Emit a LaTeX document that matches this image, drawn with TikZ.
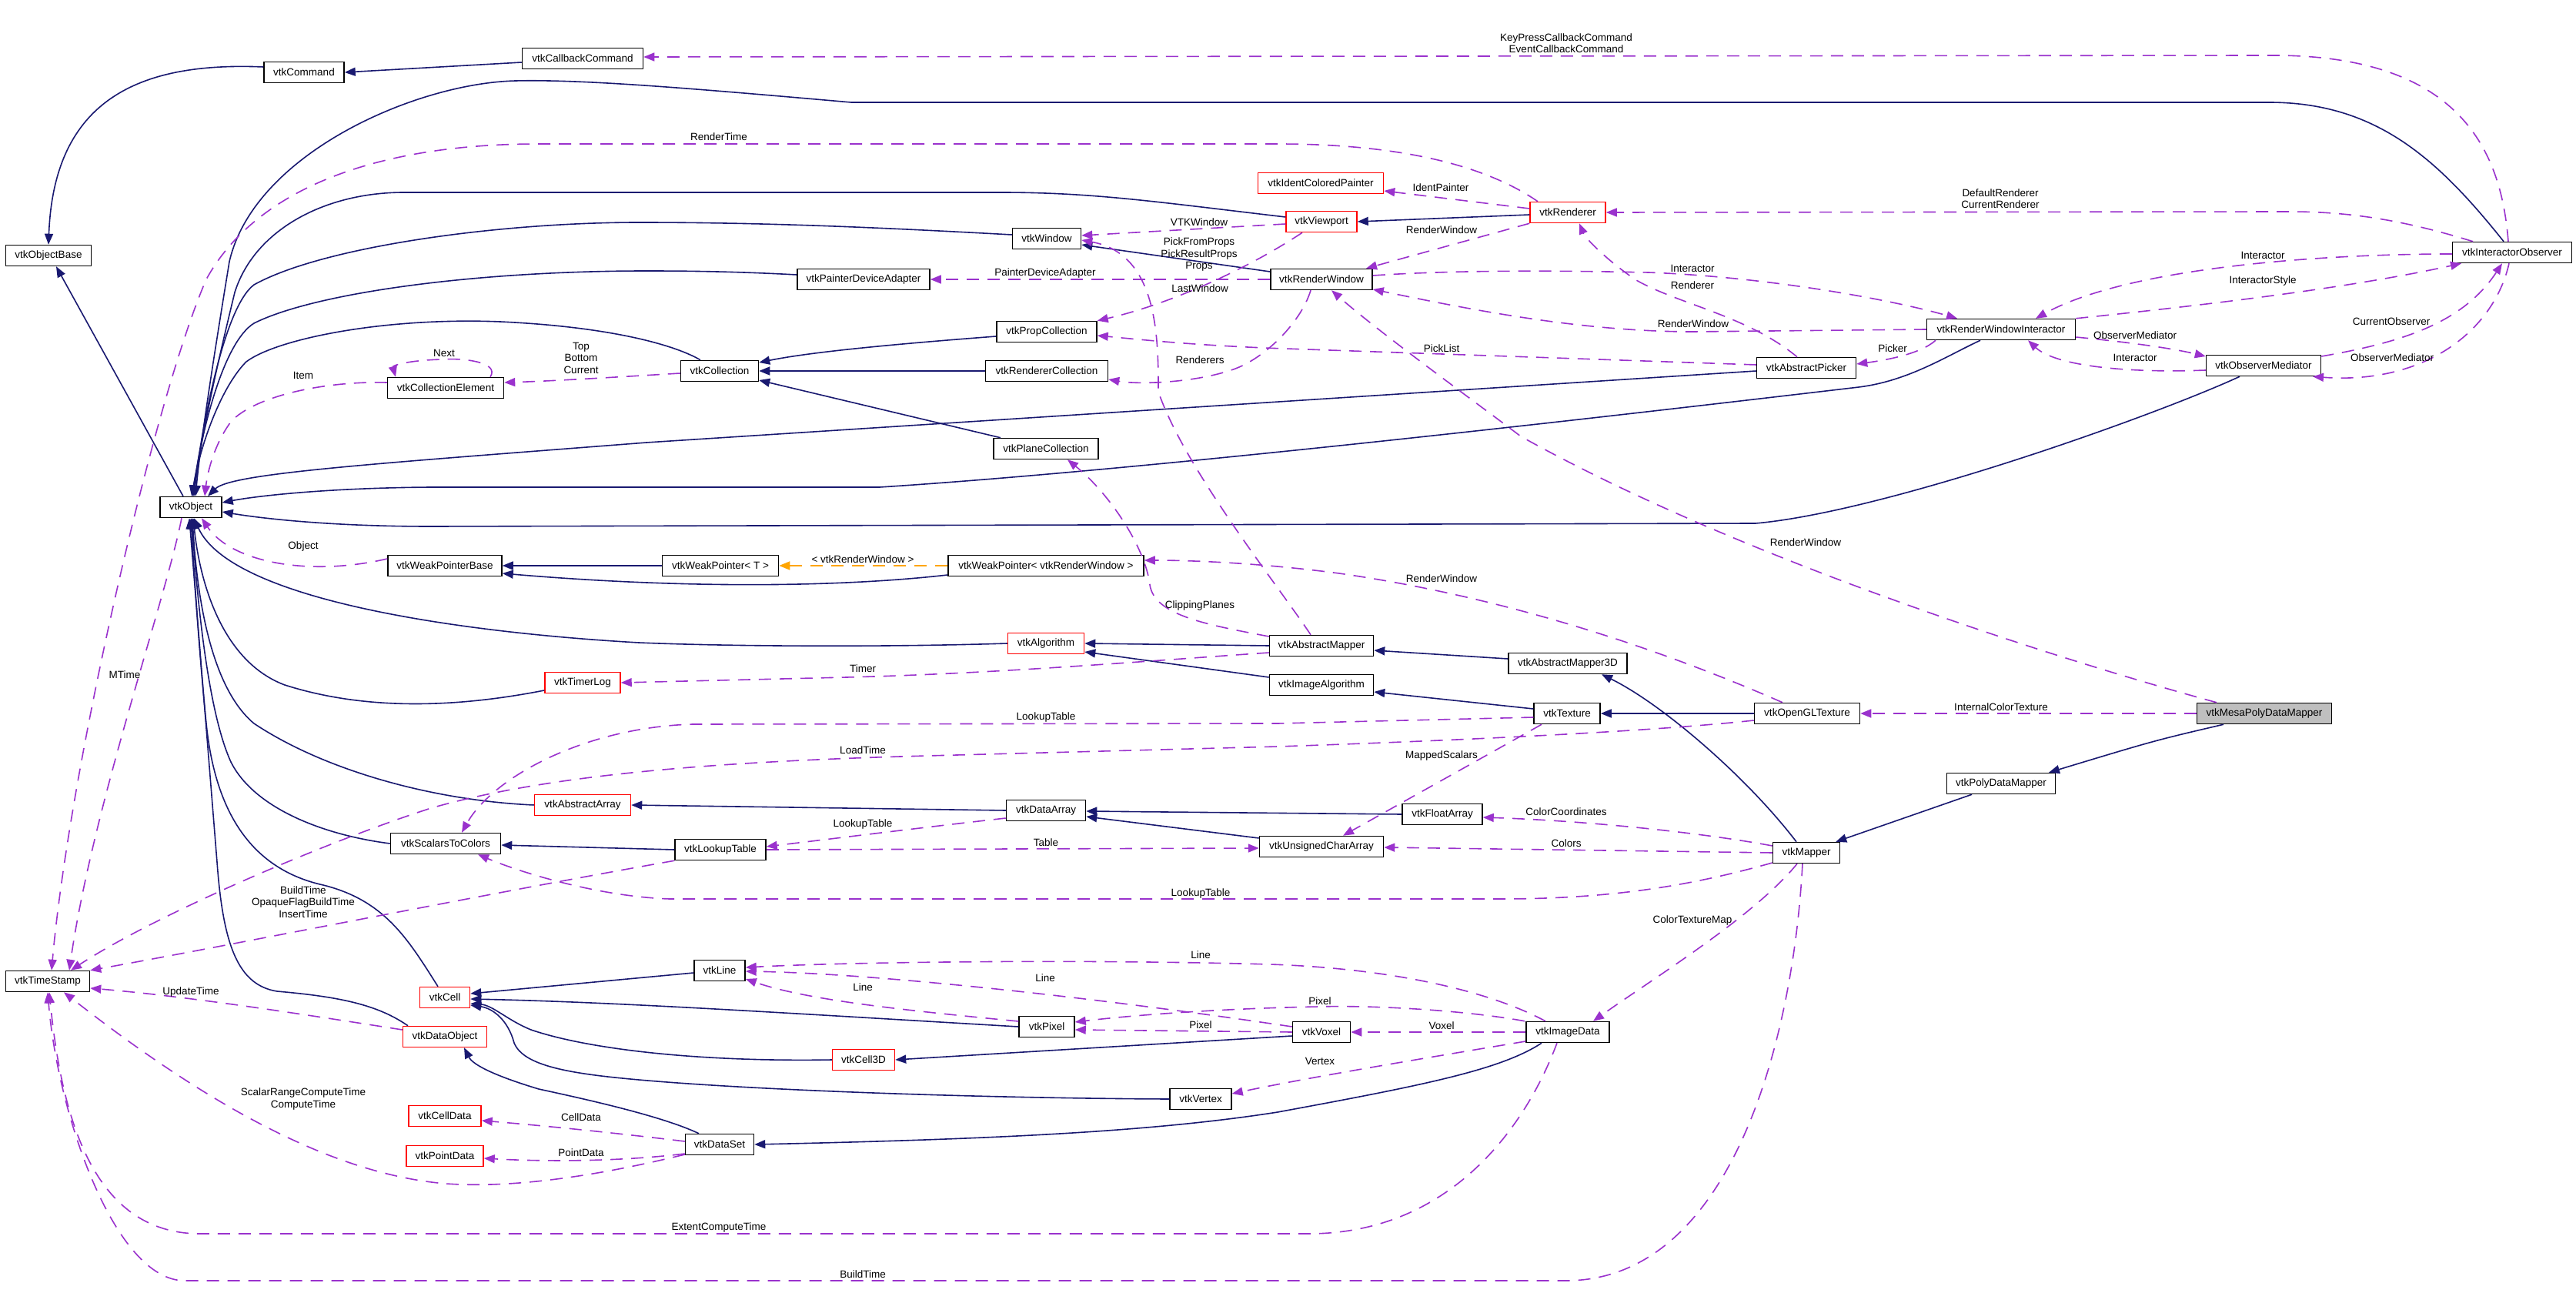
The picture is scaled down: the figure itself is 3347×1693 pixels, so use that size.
\documentclass[tikz,border=0pt]{standalone}
\usepackage{fontspec}
\setmainfont{Liberation Sans}
\usetikzlibrary{arrows.meta}
\definecolor{navyc}{HTML}{191970}
\definecolor{orch}{HTML}{9A32CD}
\definecolor{orng}{HTML}{FFA500}
\definecolor{grayf}{HTML}{BFBFBF}
\newcommand{\dxfont}{\fontsize{13.5pt}{15.5pt}\selectfont}
\begin{document}
\begin{tikzpicture}[x=1pt,y=-1pt,
  box/.style={draw=black,line width=1.5pt,fill=white,inner sep=0pt,minimum height=27pt,font=\dxfont},
  rbox/.style={box,draw=red},
  inh/.style={draw=navyc,line width=1.6pt,-{Triangle[length=14pt,width=11pt]}},
  usel/.style={draw=orch,line width=1.6pt,dash pattern=on 16pt off 11pt,-{Triangle[length=14pt,width=11pt]}},
  tmpl/.style={usel,draw=orng},
  lab/.style={font=\dxfont,inner sep=0pt,align=center}]
\fill[white] (0,0) rectangle (3347,1693);
\useasboundingbox (0,0) rectangle (3347,1693);

% ---------------- nodes ----------------
\node[box,minimum width=111pt] (objbase) at (63,332) {vtkObjectBase};
\node[box,minimum width=104pt] (cmd) at (395,94) {vtkCommand};
\node[box,minimum width=157pt] (cbcmd) at (757,76) {vtkCallbackCommand};
\node[box,minimum width=80pt] (obj) at (248,659) {vtkObject};
\node[box,minimum width=151pt] (colel) at (579,504) {vtkCollectionElement};
\node[box,minimum width=101pt] (coll) at (935,482) {vtkCollection};
\node[box,minimum width=89pt] (win) at (1360,310) {vtkWindow};
\node[box,minimum width=172pt] (pda) at (1122,363) {vtkPainterDeviceAdapter};
\node[box,minimum width=130pt] (propcol) at (1360,431) {vtkPropCollection};
\node[box,minimum width=159pt] (rencol) at (1360,482) {vtkRendererCollection};
\node[rbox,minimum width=163pt] (icp) at (1716,238) {vtkIdentColoredPainter};
\node[rbox,minimum width=92pt] (vp) at (1717,288) {vtkViewport};
\node[rbox,minimum width=98pt] (ren) at (2037,276) {vtkRenderer};
\node[box,minimum width=132pt] (rw) at (1717,363) {vtkRenderWindow};
\node[box,minimum width=129pt] (apick) at (2347,478) {vtkAbstractPicker};
\node[box,minimum width=155pt] (iobs) at (3264,328) {vtkInteractorObserver};
\node[box,minimum width=193pt] (rwi) at (2600,428) {vtkRenderWindowInteractor};
\node[box,minimum width=149pt] (om) at (2941,475) {vtkObserverMediator};
\node[box,minimum width=148pt] (wpb) at (578,735) {vtkWeakPointerBase};
\node[rbox,minimum width=98pt] (timer) at (757,887) {vtkTimerLog};
\node[rbox,minimum width=125pt] (aarr) at (757,1046) {vtkAbstractArray};
\node[box,minimum width=143pt] (s2c) at (579,1096) {vtkScalarsToColors};
\node[box,minimum width=136pt] (plane) at (1359,583) {vtkPlaneCollection};
\node[box,minimum width=151pt] (wpt) at (936,735) {vtkWeakPointer< T >};
\node[box,minimum width=254pt] (wprw) at (1359,735) {vtkWeakPointer< vtkRenderWindow >};
\node[rbox,minimum width=99pt] (alg) at (1359,836) {vtkAlgorithm};
\node[box,minimum width=103pt] (darr) at (1359,1053) {vtkDataArray};
\node[box,minimum width=118pt] (lut) at (936,1104) {vtkLookupTable};
\node[box,minimum width=135pt] (amap) at (1717,839) {vtkAbstractMapper};
\node[box,minimum width=135pt] (ialg) at (1717,890) {vtkImageAlgorithm};
\node[box,minimum width=154pt] (amap3) at (2037,862) {vtkAbstractMapper3D};
\node[box,minimum width=86pt] (tex) at (2036,927) {vtkTexture};
\node[box,minimum width=137pt] (ogltex) at (2348,927) {vtkOpenGLTexture};
\node[box,minimum width=104pt] (farr) at (1874,1058) {vtkFloatArray};
\node[box,minimum width=161pt] (ucarr) at (1717,1100) {vtkUnsignedCharArray};
\node[box,minimum width=87pt] (mapper) at (2347,1108) {vtkMapper};
\node[box,fill=grayf,minimum width=175pt] (mesa) at (2942,927) {vtkMesaPolyDataMapper};
\node[box,minimum width=141pt] (pdm) at (2600,1018) {vtkPolyDataMapper};
\node[box,minimum width=109pt] (ts) at (62,1275) {vtkTimeStamp};
\node[rbox,minimum width=65pt] (cell) at (578,1296) {vtkCell};
\node[rbox,minimum width=109pt] (dobj) at (578,1347) {vtkDataObject};
\node[rbox,minimum width=94pt] (celld) at (578,1450) {vtkCellData};
\node[rbox,minimum width=100pt] (ptd) at (578,1502) {vtkPointData};
\node[box,minimum width=66pt] (line) at (935,1261) {vtkLine};
\node[box,minimum width=72pt] (pixel) at (1360,1334) {vtkPixel};
\node[rbox,minimum width=81pt] (cell3d) at (1122,1377) {vtkCell3D};
\node[box,minimum width=80pt] (vertex) at (1560,1428) {vtkVertex};
\node[box,minimum width=89pt] (dset) at (935,1487) {vtkDataSet};
\node[box,minimum width=75pt] (voxel) at (1717,1341) {vtkVoxel};
\node[box,minimum width=108pt] (idata) at (2037,1341) {vtkImageData};

% ---------------- inheritance ----------------
\draw[inh] ([yshift=-5pt]cbcmd.west) -- (cmd.east);
\draw[inh] ([yshift=7pt]cmd.west) .. controls (180,80) and (70,130) .. (objbase.north);
\draw[inh] ([xshift=-10pt]obj.north) -- ([xshift=10pt]objbase.south);
\draw[inh] ([xshift=-11pt]iobs.north) .. controls (3167,206) and (3087,133) .. (2948,133) -- (1106,133)
  .. controls (900,115) and (760,103) .. (670,105) .. controls (540,108) and (330,200) .. (298,340)
  .. controls (285,420) and (262,560) .. ([xshift=6pt]obj.north);
\draw[inh] ([yshift=6pt]vp.west) .. controls (1500,262) and (1420,250) .. (1300,250) -- (525,250)
  .. controls (420,250) and (330,300) .. (305,380) .. controls (288,450) and (262,560) .. ([xshift=4pt]obj.north);
\draw[inh] ([yshift=5pt]win.west) .. controls (1150,296) and (1000,289) .. (830,289)
  .. controls (650,289) and (420,320) .. (330,370) .. controls (290,400) and (262,560) .. ([xshift=3pt]obj.north);
\draw[inh] ([yshift=6pt]pda.west) .. controls (960,353) and (900,352) .. (840,352)
  .. controls (620,352) and (410,380) .. (330,420) .. controls (290,445) and (262,560) .. ([xshift=2pt]obj.north);
\draw[inh] ([xshift=-25pt]coll.north) .. controls (880,450) and (800,425) .. (650,418)
  .. controls (500,412) and (360,440) .. (320,470) .. controls (290,500) and (262,570) .. ([xshift=1pt]obj.north);
\draw[inh] ([yshift=-4pt]apick.west) -- (840,575) .. controls (480,603) and (300,615) .. ([xshift=22pt]obj.north);
\draw[inh] ([xshift=-27pt]rwi.south) .. controls (2530,462) and (2480,495) .. (2415,503)
  .. controls (2100,540) and (1500,610) .. (1143,633) -- (560,633) .. controls (420,634) and (330,645) .. ([yshift=6pt]obj.east);
\draw[inh] ([xshift=-31pt]om.south) .. controls (2800,540) and (2450,665) .. (2281,680) -- (560,684)
  .. controls (420,684) and (330,672) .. ([yshift=-6pt]obj.east);
\draw[inh] ([yshift=-3pt]ren.west) -- (vp.east);
\draw[inh] ([yshift=10pt]rw.west) -- ([yshift=-8pt]win.east);
\draw[inh] ([yshift=-6pt]propcol.west) .. controls (1150,448) and (1050,458) .. ([yshift=11pt]coll.east);
\draw[inh] (rencol.west) -- (coll.east);
\draw[inh] ([xshift=-59pt]plane.north) -- ([yshift=-12pt]coll.east);
\draw[inh] (wpt.west) -- (wpb.east);
\draw[inh] ([yshift=-12pt]wprw.west) .. controls (1100,762) and (900,766) .. ([yshift=-10pt]wpb.east);
\draw[inh] (amap.west) -- (alg.east);
\draw[inh] ([yshift=10pt]ialg.west) -- ([yshift=-11pt]alg.east);
\draw[inh] ([yshift=6pt]amap3.west) -- ([yshift=-6pt]amap.east);
\draw[inh] ([yshift=6pt]tex.west) -- ([yshift=-9pt]ialg.east);
\draw[inh] (ogltex.west) -- (tex.east);
\draw[inh] ([xshift=-13pt]mapper.north) .. controls (2270,1010) and (2160,915) .. ([xshift=44pt]amap3.south);
\draw[inh] ([xshift=-38pt]pdm.south) -- ([xshift=-6pt]mapper.north east);
\draw[inh] ([xshift=-53pt]mesa.south) .. controls (2800,962) .. ([xshift=62pt]pdm.north);
\draw[inh] (darr.west) -- (aarr.east);
\draw[inh] (farr.west) -- ([yshift=-1pt]darr.east);
\draw[inh] ([yshift=11pt]ucarr.west) -- ([yshift=-8pt]darr.east);
\draw[inh] (lut.west) -- ([yshift=-2pt]s2c.east);
\draw[inh] ([yshift=-3pt]line.west) -- ([yshift=5pt]cell.east);
\draw[inh] (pixel.west) .. controls (1000,1315) and (800,1302) .. ([yshift=-2pt]cell.east);
\draw[inh] (cell3d.west) .. controls (900,1380) and (760,1362) .. (690,1338) .. controls (660,1326) and (640,1306) .. ([yshift=-8pt]cell.east);
\draw[inh] (vertex.west) .. controls (1300,1427) and (1000,1418) .. (830,1403) .. controls (740,1395) and (680,1385) .. (668,1355)
  .. controls (660,1325) and (640,1310) .. ([yshift=-10pt]cell.east);
\draw[inh] ([yshift=-5pt]voxel.west) -- (cell3d.east);
\draw[inh] ([xshift=-27pt]dset.north) .. controls (860,1450) and (760,1428) .. (700,1415) .. controls (650,1400) and (615,1385) .. ([xshift=25pt]dobj.south);
\draw[inh] ([xshift=-34pt]idata.south) .. controls (1950,1390) and (1850,1410) .. (1660,1445) .. controls (1500,1470) and (1300,1480) .. (dset.east);
\draw[inh] (alg.west) .. controls (1150,841) and (950,840) .. (830,835) .. controls (600,822) and (300,780) .. ([xshift=4pt]obj.south);
\draw[inh] ([yshift=-10pt]timer.west) .. controls (600,918) and (480,925) .. (370,890) .. controls (290,860) and (260,760) .. ([xshift=3pt]obj.south);
\draw[inh] (aarr.west) .. controls (560,1040) and (420,1000) .. (330,940) .. controls (270,890) and (255,760) .. ([xshift=2pt]obj.south);
\draw[inh] (s2c.west) .. controls (420,1085) and (330,1050) .. (300,990) .. controls (268,920) and (255,760) .. ([xshift=1pt]obj.south);
\draw[inh] ([xshift=-9pt]cell.north) .. controls (530,1220) and (500,1170) .. (420,1150) .. controls (330,1130) and (280,1060) .. (268,940)
  .. controls (258,840) and (252,740) .. (obj.south);
\draw[inh] ([xshift=-48pt]dobj.north) .. controls (490,1305) and (440,1295) .. (360,1288) .. controls (310,1280) and (290,1230) .. (282,1120)
  -- ([xshift=-2pt]obj.south);

% ---------------- usage ----------------
\draw[usel] ([xshift=-5pt]iobs.north) .. controls (3250,200) and (3200,72) .. (2954,72) -- ([yshift=2pt]cbcmd.east);
\draw[usel] ([xshift=-39pt]ren.north) .. controls (1930,215) and (1820,187) .. (1660,187) -- (700,187)
  .. controls (480,187) and (330,250) .. (268,363) .. controls (200,520) and (90,1000) .. ([xshift=5pt]ts.north);
\draw[usel] ([xshift=-12pt]obj.south) .. controls (215,780) and (120,1050) .. ([xshift=28pt]ts.north);
\draw[usel] ([yshift=-9pt]ogltex.west) .. controls (2150,950) and (1900,962) .. (1660,970) -- (1205,982)
  .. controls (900,990) and (700,1010) .. (560,1050) .. controls (420,1095) and (200,1190) .. ([xshift=30pt]ts.north);
\draw[usel] (lut.south west) .. controls (650,1158) and (300,1228) .. (ts.north east);
\draw[usel] ([yshift=9pt]dobj.west) .. controls (420,1322) and (250,1295) .. ([yshift=-9pt]ts.east);
\draw[usel] ([yshift=-13pt]dset.west) .. controls (800,1522) and (680,1545) .. (580,1538) .. controls (420,1525) and (250,1420) .. ([xshift=21pt]ts.south);
\draw[usel] ([xshift=-14pt]idata.south) .. controls (1980,1470) and (1880,1603) .. (1700,1603) -- (260,1603)
  .. controls (120,1603) and (80,1450) .. ([xshift=2pt]ts.south);
\draw[usel] ([xshift=-5pt]mapper.south) .. controls (2330,1350) and (2250,1664) .. (2034,1664) -- (240,1664)
  .. controls (150,1664) and (75,1450) .. (ts.south);
\draw[usel] ([yshift=5pt]ren.west) -- ([yshift=-10pt]icp.east);
\draw[usel] (ren.south west) -- ([xshift=58pt]rw.north);
\draw[usel] ([xshift=-51pt]iobs.north) .. controls (3120,285) and (3050,275) .. (2975,275) -- (ren.east);
\draw[usel] ([xshift=-12pt]apick.north) .. controls (2270,410) and (2180,395) .. (2126,364) .. controls (2090,340) and (2060,310) .. ([xshift=15pt]ren.south);
\draw[usel] ([yshift=5pt]rw.east) .. controls (1900,350) and (2050,352) .. (2142,354) .. controls (2300,360) and (2460,390) .. ([xshift=-57pt]rwi.north);
\draw[usel] (rwi.west) -- (2200,431) .. controls (2050,431) and (1900,400) .. ([yshift=-13pt]rw.east);
\draw[usel] (rw.west) -- (pda.east);
\draw[usel] ([yshift=-3pt]vp.west) -- ([yshift=4pt]win.east);
\draw[usel] ([xshift=-25pt]vp.south) .. controls (1620,350) and (1520,395) .. (propcol.north east);
\draw[usel] ([xshift=-14pt]amap.north) .. controls (1660,760) and (1540,610) .. (1505,509) .. controls (1505,440) and (1505,330) .. ([yshift=-2pt]win.east);
\draw[usel] ([xshift=-14pt]rw.south) .. controls (1690,420) and (1640,470) .. (1596,482) .. controls (1550,497) and (1480,500) .. ([yshift=-11pt]rencol.east);
\draw[usel] ([yshift=4pt]apick.west) -- (1670,453) .. controls (1550,449) and (1470,440) .. ([yshift=-5pt]propcol.east);
\draw[usel] ([xshift=-85pt]rwi.south) .. controls (2495,460) and (2450,468) .. ([yshift=5pt]apick.east);
\draw[usel] (rwi.north east) .. controls (2850,398) and (3050,375) .. ([xshift=-66pt]iobs.south);
\draw[usel] ([yshift=-2pt]iobs.west) .. controls (3000,330) and (2760,350) .. ([xshift=45pt]rwi.north);
\draw[usel] ([yshift=12pt]om.east) .. controls (3120,445) and (3200,420) .. ([xshift=-13pt]iobs.south);
\draw[usel] ([xshift=-4pt]iobs.south) .. controls (3240,430) and (3150,500) .. ([xshift=64pt]om.south);
\draw[usel] ([yshift=-10pt]rwi.east) .. controls (2760,444) and (2820,452) .. ([yshift=12pt]om.west);
\draw[usel] ([yshift=-6pt]om.west) .. controls (2760,485) and (2670,475) .. ([xshift=35pt]rwi.south);
\draw[usel] ([xshift=-62pt]mesa.north) .. controls (2650,850) and (2250,720) .. (1976,567) .. controls (1900,510) and (1790,430) .. ([xshift=13pt]rw.south);
\draw[usel] (mesa.west) -- (ogltex.east);
\draw[usel] ([xshift=-32pt]ogltex.north) .. controls (2150,840) and (1950,775) .. (1740,745) .. controls (1650,733) and (1560,728) .. ([yshift=7pt]wprw.east);
\draw[usel] ([yshift=12pt]amap.west) .. controls (1570,812) and (1500,800) .. (1494,760) .. controls (1488,710) and (1440,640) .. ([xshift=28pt]plane.south);
\draw[usel] ([yshift=-9pt]amap.west) .. controls (1500,858) and (1300,875) .. (1100,880) -- (timer.east);
\draw[usel] ([yshift=-5pt]tex.west) -- (1660,940) -- (900,941) .. controls (760,945) and (640,1010) .. ([xshift=21pt]s2c.north);
\draw[usel] ([xshift=-33pt]tex.south) -- ([xshift=28pt]ucarr.north);
\draw[usel] ([yshift=9pt]mapper.west) .. controls (2200,1080) and (2050,1066) .. ([yshift=-4pt]farr.east);
\draw[usel] (mapper.west) -- ([yshift=-1pt]ucarr.east);
\draw[usel] ([yshift=-13pt]mapper.west) .. controls (2200,1150) and (2100,1167) .. (1960,1168) -- (870,1168)
  .. controls (780,1165) and (680,1135) .. ([xshift=42pt]s2c.south);
\draw[usel] ([xshift=-12pt]mapper.south) .. controls (2280,1190) and (2150,1270) .. ([xshift=33pt]idata.north);
\draw[usel] ([xshift=-29pt]idata.north) .. controls (1930,1285) and (1800,1258) .. (1650,1253) .. controls (1400,1246) and (1100,1250) .. ([yshift=4pt]line.east);
\draw[usel] ([yshift=7pt]pixel.west) .. controls (1180,1313) and (1050,1300) .. ([yshift=-11pt]line.east);
\draw[usel] ([yshift=7pt]voxel.west) .. controls (1450,1300) and (1150,1265) .. ([yshift=-1pt]line.east);
\draw[usel] ([xshift=-56pt]idata.north) .. controls (1900,1312) and (1780,1306) .. (1713,1308) .. controls (1600,1310) and (1480,1318) .. ([yshift=6pt]pixel.east);
\draw[usel] (voxel.west) -- ([yshift=-4pt]pixel.east);
\draw[usel] (idata.west) -- (voxel.east);
\draw[usel] ([yshift=-12pt]idata.west) .. controls (1850,1375) and (1700,1400) .. ([yshift=7pt]vertex.east);
\draw[usel] ([yshift=4pt]dset.west) .. controls (800,1472) and (700,1462) .. ([yshift=-6pt]celld.east);
\draw[usel] ([yshift=-12pt]dset.west) .. controls (800,1510) and (700,1509) .. ([yshift=-3pt]ptd.east);
\draw[tmpl] (wprw.west) -- (wpt.east);
\draw[usel] ([yshift=-10pt]darr.west) .. controls (1200,1075) and (1080,1090) .. ([yshift=4pt]lut.east);
\draw[usel] (lut.east) -- ([yshift=-2pt]ucarr.west);
\draw[usel] ([yshift=-3pt]coll.west) .. controls (800,490) and (720,495) .. ([yshift=7pt]colel.east);
\draw[usel] ([xshift=58pt]colel.north) .. controls (650,470) and (600,465) .. (575,467) .. controls (530,468) and (510,475) .. ([xshift=-65pt]colel.north);
\draw[usel] ([yshift=7pt]colel.west) .. controls (420,495) and (330,515) .. (300,548) .. controls (280,575) and (270,610) .. ([xshift=18pt]obj.north);
\draw[usel] ([yshift=9pt]wpb.west) .. controls (400,750) and (300,730) .. ([xshift=14pt]obj.south);

% ---------------- labels ----------------
\node[lab] (l1) at (2035,56) {KeyPressCallbackCommand\\EventCallbackCommand};
\node[lab] (l2) at (934,178) {RenderTime};
\node[lab] (l3) at (755,465) {Top\\Bottom\\Current};
\node[lab] (l4) at (577,459) {Next};
\node[lab] (l5) at (394,488) {Item};
\node[lab] (l6) at (1872,244) {IdentPainter};
\node[lab] (l7) at (1873,299) {RenderWindow};
\node[lab] (l8) at (1558,289) {VTKWindow};
\node[lab] (l9) at (1558,331) {PickFromProps\\PickResultProps\\Props};
\node[lab] (l10) at (1358,355) {PainterDeviceAdapter};
\node[lab] (l11) at (1559,375) {LastWindow};
\node[lab] (l12) at (2599,258) {DefaultRenderer\\CurrentRenderer};
\node[lab] (l13) at (2199,349) {Interactor};
\node[lab] (l14) at (2199,371) {Renderer};
\node[lab] (l15) at (2200,421) {RenderWindow};
\node[lab] (l16) at (1873,453) {PickList};
\node[lab] (l17) at (2459,453) {Picker};
\node[lab] (l18) at (1559,468) {Renderers};
\node[lab] (l19) at (2940,332) {Interactor};
\node[lab] (l20) at (2940,365) {InteractorStyle};
\node[lab] (l21) at (3107,418) {CurrentObserver};
\node[lab] (l22) at (2774,436) {ObserverMediator};
\node[lab] (l23) at (2774,465) {Interactor};
\node[lab] (l24) at (3108,465) {ObserverMediator};
\node[lab] (l25) at (394,710) {Object};
\node[lab] (l26) at (1121,727) {< vtkRenderWindow >};
\node[lab] (l27) at (1873,752) {RenderWindow};
\node[lab] (l28) at (2346,705) {RenderWindow};
\node[lab] (l29) at (1559,787) {ClippingPlanes};
\node[lab] (l30) at (162,877) {MTime};
\node[lab] (l31) at (1121,869) {Timer};
\node[lab] (l32) at (1359,932) {LookupTable};
\node[lab] (l33) at (1121,975) {LoadTime};
\node[lab] (l34) at (1873,982) {MappedScalars};
\node[lab] (l35) at (2600,919) {InternalColorTexture};
\node[lab] (l36) at (2035,1055) {ColorCoordinates};
\node[lab] (l37) at (1121,1071) {LookupTable};
\node[lab] (l38) at (1359,1095) {Table};
\node[lab] (l39) at (2035,1096) {Colors};
\node[lab] (l40) at (394,1172) {BuildTime\\OpaqueFlagBuildTime\\InsertTime};
\node[lab] (l41) at (1560,1161) {LookupTable};
\node[lab] (l42) at (2199,1196) {ColorTextureMap};
\node[lab] (l43) at (1560,1241) {Line};
\node[lab] (l44) at (1358,1271) {Line};
\node[lab] (l45) at (1121,1283) {Line};
\node[lab] (l46) at (248,1289) {UpdateTime};
\node[lab] (l47) at (1715,1301) {Pixel};
\node[lab] (l48) at (1560,1332) {Pixel};
\node[lab] (l49) at (1873,1333) {Voxel};
\node[lab] (l50) at (1715,1379) {Vertex};
\node[lab] (l51) at (394,1428) {ScalarRangeComputeTime\\ComputeTime};
\node[lab] (l52) at (755,1452) {CellData};
\node[lab] (l53) at (755,1498) {PointData};
\node[lab] (l54) at (934,1595) {ExtentComputeTime};
\node[lab] (l55) at (1121,1656) {BuildTime};
\end{tikzpicture}
\end{document}
